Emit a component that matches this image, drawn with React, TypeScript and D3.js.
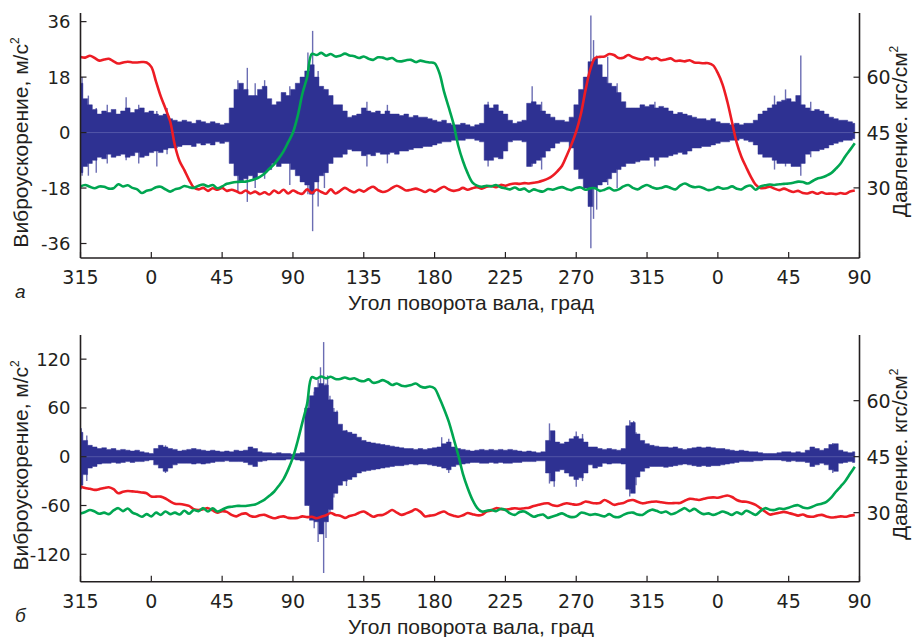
import React from 'react';
import * as d3 from 'd3';

// sampling grid of crank angle (continuous degrees; -45 = 315 of previous cycle)
const ANGLES = d3.range(-45, 448, 3);

const X_TICKS = [-45, 0, 45, 90, 135, 180, 225, 270, 315, 360, 405, 450];
const X_TICK_LABELS = ['315', '0', '45', '90', '135', '180', '225', '270', '315', '0', '45', '90'];
const TOP_VIB_TICKS = [36, 18, 0, -18, -36];
const BOT_VIB_TICKS = [120, 60, 0, -60, -120];
const PRESS_TICKS = [60, 45, 30];

// ---- panel a: pressure, kgf/cm2 ----
const TOP_RED = [
  65.5, 65.3, 65.8, 65.2, 64.5, 64.8, 65.0, 64.3, 63.7, 64.0,
  64.2, 64.0, 64.0, 64.1, 64.0, 62.8, 58.8, 54.8, 51.5, 48.0,
  41.5, 37.2, 34.8, 32.2, 30.1, 29.6, 30.0, 29.2, 29.9, 29.5,
  30.0, 29.2, 29.5, 29.1, 28.6, 29.3, 28.5, 29.0, 28.3, 28.8,
  28.2, 29.3, 28.6, 29.5, 28.5, 29.3, 28.7, 28.4, 29.6, 28.6,
  29.5, 28.9, 28.4, 29.6, 28.5, 29.2, 30.0, 29.3, 28.8, 29.5,
  29.0, 29.8, 30.3, 29.4, 28.9, 29.2, 30.0, 30.6, 30.0, 29.3,
  29.5, 29.8, 29.4, 28.9, 29.5, 29.0, 29.7, 30.3, 29.6, 29.2,
  29.4, 30.0, 29.5, 29.9, 30.2, 29.8, 30.3, 30.5, 30.2, 30.8,
  30.6, 31.0, 31.2, 31.1, 31.3, 31.2, 31.4, 31.6, 32.0, 32.5,
  33.3, 34.5, 36.0, 38.8, 41.8, 45.3, 50.1, 56.7, 62.2, 65.2,
  65.5, 65.6, 66.3, 66.0, 65.2, 65.3, 66.0, 65.4, 65.0, 64.8,
  65.4, 64.9, 65.2, 64.6, 64.8, 65.1, 64.4, 64.5, 64.3, 64.6,
  64.0, 63.9, 63.8, 63.8, 63.2, 61.1, 58.0, 53.4, 47.8, 42.2,
  38.4, 35.6, 33.0, 30.9, 30.0, 30.0, 30.3, 29.8, 29.4, 29.8,
  29.3, 28.9, 29.2, 28.6, 28.5, 28.9, 28.4, 28.8, 28.4, 28.5,
  28.3, 28.6, 28.4, 29.0, 29.3,
];
const TOP_GREEN = [
  30.4, 30.8, 30.3, 29.9, 30.4, 30.3, 29.8, 29.9, 31.0, 30.4,
  30.7, 30.0, 29.6, 28.6, 29.2, 29.5, 30.2, 30.3, 29.6, 29.0,
  29.6, 29.9, 30.5, 30.2, 30.0, 30.6, 30.9, 30.4, 30.8, 29.9,
  30.4, 31.1, 31.4, 31.6, 31.7, 31.7, 32.0, 32.4, 33.0, 33.9,
  35.2, 36.4, 38.0, 39.9, 42.4, 45.0, 49.5, 55.5, 60.0, 66.3,
  66.0, 66.6, 65.8, 66.3, 65.6, 65.8, 66.4, 65.9, 65.7, 65.2,
  65.6, 65.0, 64.7, 65.4, 65.3, 64.9, 65.2, 64.4, 64.3, 64.6,
  64.7, 64.1, 64.5, 64.2, 64.0, 63.8, 61.2, 56.1, 51.8, 47.4,
  41.5, 37.3, 34.0, 31.5, 30.6, 30.3, 30.6, 30.4, 30.8, 30.2,
  29.9, 29.6, 30.1, 29.5, 29.8, 29.0, 29.6, 29.2, 29.0, 29.7,
  29.5, 29.9, 30.2, 29.7, 29.4, 30.0, 30.1, 29.5, 29.9, 29.9,
  29.2, 29.5, 30.0, 29.3, 29.6, 30.4, 30.8, 30.0, 29.6, 30.3,
  30.8, 30.2, 29.8, 30.0, 30.4, 30.0, 29.6, 30.6, 31.2, 30.6,
  30.2, 30.3, 29.9, 29.4, 29.6, 30.2, 29.8, 29.9, 30.4, 29.8,
  29.6, 30.4, 30.6, 29.5, 30.4, 30.7, 30.9, 30.8, 31.0, 31.1,
  31.2, 31.4, 31.7, 31.6, 31.2, 31.8, 32.5, 32.8, 33.3, 34.0,
  35.2, 36.6, 38.6, 40.3, 42.1,
];
// ---- panel a: vibration envelope, m/s2 ----
const TOP_HI = [
  16, 11, 9, 7.5, 6, 7, 6.5, 7.5, 6, 7,
  8, 6.5, 7.5, 8, 6.5, 7, 6, 5.5, 6, 4.5,
  4, 3.5, 4, 3.5, 3, 4, 3.5, 3, 3.5, 3,
  2.5, 3, 8, 14, 16, 14, 12, 12, 14, 15,
  11, 9, 10, 13, 12, 14, 16, 18, 20, 22,
  18, 15, 14, 12, 9, 9, 7, 5, 5.5, 6,
  8, 7, 6.5, 7, 6, 7, 6, 6, 5.5, 6,
  5, 5.5, 5, 5, 4.5, 4, 3.5, 4, 3, 2.5,
  2.5, 3, 2.5, 2, 2.5, 3, 9, 8, 9, 7,
  6, 4, 3, 3.5, 4, 9.5, 10, 9, 7, 6,
  5, 4, 4, 3.5, 5, 9, 14, 18, 23, 24,
  22, 18, 16, 15, 13, 10, 8, 8, 8, 9,
  8.5, 9, 8, 8.5, 8, 7, 6, 6.5, 6, 5.5,
  5, 4.5, 4.5, 4, 4.5, 3.5, 3, 3, 2.5, 3,
  2.5, 3, 3, 4, 6, 7, 8, 9, 10, 10.5,
  11, 10, 12, 9, 8, 7, 7.5, 7, 6, 5,
  4.5, 4, 4, 3.5, 3,
];
const TOP_LO = [
  -13, -11, -10, -9, -8, -8.5, -7, -8, -7.5, -7,
  -8, -7.5, -6.5, -8, -7.5, -6.5, -6, -6.5, -5.5, -5,
  -5, -4.5, -4, -4, -4.5, -3.5, -4, -3.5, -4, -3,
  -3.5, -3, -10, -14, -16, -15, -14, -15, -13, -13,
  -12, -10, -11, -10, -10, -12, -14, -16, -17, -20,
  -16, -14, -13, -10, -8, -8, -7, -5.5, -6, -6,
  -7.5, -7, -7.5, -6.5, -7, -7, -6.5, -7, -6, -6,
  -5.5, -5, -5, -4.5, -4.5, -4, -3.5, -3, -3, -2.5,
  -2.5, -2.5, -2, -2, -2.5, -3, -9, -9, -8, -8.5,
  -6, -3, -2.5, -2.5, -3, -11, -10, -9, -8, -6,
  -5, -3.5, -3, -3, -5, -12, -15, -18, -24, -18,
  -17, -16, -15, -13, -12, -11, -10, -10, -9.5, -9,
  -9, -8, -9, -8, -8, -7.5, -7, -6.5, -7, -6,
  -5, -5, -4.5, -4.5, -4, -3.5, -3, -3, -2.5, -2.5,
  -2, -2.5, -3, -4, -7, -8, -8, -9, -10, -10,
  -10, -11, -11, -10, -7, -6, -6, -5.5, -5, -4,
  -3.5, -3, -2.5, -2.5, -2,
];
// isolated peaks [angle, max, min]
const TOP_SPIKES = [
  [-44, 18, -14], [-40, 12, -14], [-35, 8, -13], [-28, 9, -10], [-16, 11.5, -9], [-8, 9, -10],
  [3.5, 7, -11], [10, 8, -7], [55, 17, -19], [61, 21, -22.5], [66, 16, -18], [72, 17, -15],
  [88, 15, -17], [99.5, 26, -20], [102.5, 33, -32], [106, 20, -24], [110, 14, -18], [137, 10, -11],
  [150, 9, -10], [214, 10, -11], [242, 15, -11], [248, 10, -12], [279.3, 38, -37.5], [281, 30, -28],
  [283, 25, -25], [290, 24.6, -17], [296, 16, -18], [320, 10, -11], [396, 12, -12], [403, 14, -11],
  [412.7, 25, -14], [419, 10, -8],
];

// ---- panel b ----
const BOT_RED = [
  37.0, 36.6, 36.4, 36.1, 36.3, 36.6, 36.8, 36.3, 35.2, 35.6,
  35.8, 35.7, 35.6, 35.4, 35.2, 34.3, 34.3, 34.3, 33.8, 33.0,
  32.4, 32.3, 32.1, 31.8, 30.9, 30.7, 30.9, 31.2, 30.6, 30.0,
  30.4, 30.2, 29.4, 29.0, 29.6, 29.8, 29.1, 28.9, 29.3, 29.4,
  28.9, 28.5, 28.8, 29.0, 28.6, 28.5, 28.6, 29.0, 28.8, 28.9,
  28.5, 28.9, 29.3, 29.9, 29.4, 29.2, 28.6, 29.1, 29.4, 30.0,
  30.3, 29.6, 28.9, 29.3, 29.4, 30.0, 30.7, 30.0, 29.4, 29.8,
  30.3, 30.9, 30.2, 29.0, 29.2, 29.4, 29.9, 30.3, 29.6, 29.2,
  28.9, 29.3, 29.9, 29.6, 29.3, 29.4, 30.3, 30.6, 31.2, 31.0,
  30.8, 31.0, 31.2, 31.0, 31.2, 31.3, 31.8, 32.1, 32.4, 32.5,
  32.0, 31.8, 32.2, 32.5, 32.3, 32.1, 32.4, 33.0, 32.7, 32.5,
  32.6, 33.4, 32.8, 32.1, 32.4, 32.6, 33.2, 33.4, 32.9, 32.5,
  32.7, 32.9, 33.0, 32.8, 32.6, 32.5, 32.6, 32.6, 33.2, 33.7,
  33.6, 33.4, 33.7, 34.0, 34.1, 34.0, 34.3, 34.6, 34.2, 33.4,
  33.0, 32.9, 32.6, 32.1, 31.2, 30.3, 29.5, 29.7, 30.0, 30.2,
  29.9, 29.6, 29.2, 29.5, 29.0, 28.9, 29.2, 29.4, 29.0, 28.7,
  28.8, 29.0, 28.9, 29.2, 29.4,
];
const BOT_GREEN = [
  29.8, 30.2, 30.7, 30.3, 29.7, 30.0, 29.6, 30.6, 31.2, 30.4,
  31.1, 30.0, 29.5, 28.9, 29.6, 29.0, 30.0, 29.4, 30.3, 29.6,
  30.0, 29.5, 30.5, 29.7, 30.7, 30.4, 31.2, 30.3, 31.2, 30.3,
  30.8, 31.4, 31.6, 31.8, 31.8, 31.8, 32.0, 32.2, 32.8, 33.5,
  34.5, 35.6, 37.2, 39.0, 41.6, 44.8, 49.2, 54.2, 59.2, 66.3,
  65.9, 66.5, 66.0, 66.4, 65.8, 65.8, 66.2, 65.8, 66.0, 65.4,
  65.2, 65.7, 64.8, 65.0, 65.5, 65.0, 64.2, 64.6, 64.0, 63.9,
  64.2, 64.6, 63.8, 63.5, 63.8, 63.3, 60.8, 57.8, 54.4, 50.0,
  45.5, 40.4, 36.6, 33.5, 31.3, 30.3, 30.5, 30.7, 30.4, 31.0,
  30.7, 29.8, 29.4, 30.2, 30.3, 29.6, 28.9, 29.3, 29.5, 28.6,
  29.0, 29.4, 29.8, 29.2, 28.8, 29.0, 30.0, 29.8, 29.4, 29.6,
  29.3, 29.0, 29.6, 28.9, 28.8, 29.4, 29.9, 30.0, 29.5, 29.4,
  30.2, 30.8, 30.5, 30.0, 30.3, 29.6, 29.9, 30.6, 31.2, 30.4,
  31.0, 30.2, 29.6, 29.8, 29.4, 29.8, 30.3, 29.9, 29.4, 30.1,
  29.6, 30.5, 30.0, 29.4, 30.4, 31.2, 30.8, 30.7, 31.1, 31.0,
  31.3, 31.8, 32.0, 31.4, 31.2, 31.6, 32.1, 32.4, 32.9, 34.0,
  35.6, 37.0, 38.5, 40.4, 42.3,
];
const BOT_HI = [
  30, 20, 14, 12, 10, 11, 9, 10, 8, 9,
  8, 7, 8, 6, 5, 4, 10, 14, 12, 10,
  9, 7, 8, 9, 10, 9, 8, 7, 8, 7,
  6, 7, 6, 8, 7, 8, 12, 10, 6, 5,
  5, 4, 5, 4, 4, 3, 4, 5, 60, 75,
  85, 90, 88, 70, 55, 40, 32, 30, 28, 24,
  20, 18, 17, 16, 15, 14, 13, 12, 11, 10,
  10, 9, 10, 9, 10, 11, 12, 16, 18, 12,
  10, 9, 8, 7, 8, 9, 8, 9, 8, 9,
  8, 9, 8, 7, 6, 7, 6, 5, 6, 20,
  32, 18, 16, 18, 22, 25, 22, 18, 12, 12,
  10, 9, 10, 9, 8, 10, 38, 42, 28, 20,
  16, 14, 13, 12, 12, 11, 12, 10, 9, 10,
  11, 12, 11, 12, 11, 10, 10, 9, 8, 7,
  8, 7, 6, 6, 5, 4, 4, 4, 5, 6,
  6, 5, 6, 5, 8, 12, 10, 8, 10, 15,
  16, 8, 6, 5, 6,
];
const BOT_LO = [
  -35, -22, -14, -12, -9, -8, -8, -7, -8, -7,
  -6, -7, -6, -6, -5, -4, -10, -14, -18, -14,
  -10, -8, -8, -8, -9, -8, -9, -8, -7, -6,
  -6, -5, -6, -6, -6, -7, -10, -12, -6, -5,
  -4, -4, -4, -4, -3, -3, -4, -5, -60, -78,
  -80, -95, -80, -65, -45, -35, -30, -28, -25, -20,
  -18, -17, -16, -15, -14, -13, -12, -11, -11, -10,
  -9, -10, -9, -9, -10, -11, -12, -14, -16, -12,
  -10, -9, -8, -7, -7, -8, -8, -7, -8, -7,
  -8, -8, -7, -7, -6, -6, -6, -5, -5, -20,
  -30, -18, -16, -20, -24, -28, -26, -20, -10, -14,
  -12, -8, -9, -8, -8, -9, -40, -45, -25, -18,
  -14, -12, -12, -12, -13, -12, -11, -10, -9, -10,
  -11, -12, -11, -12, -11, -11, -10, -9, -8, -7,
  -6, -6, -6, -5, -5, -4, -4, -4, -4, -5,
  -6, -5, -6, -6, -7, -12, -10, -8, -10, -16,
  -18, -8, -7, -6, -7,
];
const BOT_SPIKES = [
  [-44.5, 35, -40], [-41, 26, -30], [9, 14, -20], [100, 70, -60], [101.5, 65, -75],
  [103.5, 80, -88], [104.5, 85, -70], [106, 95, -105], [107.5, 110, -95], [109.5, 141, -143],
  [111, 90, -100], [112, 100, -80], [113.5, 75, -70], [116, 60, -50], [118, 57, -45],
  [124, 33, -36], [184.5, 24, -12], [189, 22, -20], [253, 41, -33], [256, 30, -37],
  [270, 31, -37], [274, 28, -30], [304, 45, -49], [306.5, 44, -40], [308, 30, -35], [433, 17, -20],
];

const INK = '#231f20';
const NAVY = '#2e3192';
const NAVY_LIGHT = '#6b6db3';
const RED = '#ed1c24';
const GREEN = '#00a651';
const NUM_FONT = '"DejaVu Sans", sans-serif';
const TXT_FONT = '"Liberation Sans", Arial, sans-serif';

const xScale = d3.scaleLinear().domain([-45, 450]).range([80.5, 859.5]);

type PanelProps = {
  top: number; bottom: number;
  vibDomain: [number, number]; pressDomain: [number, number];
  vibTicks: number[]; hi: number[]; lo: number[]; spikes: number[][];
  red: number[]; green: number[]; letter: string;
};

function Panel(p: PanelProps) {
  const left = 80.5, right = 859.5;
  const yV = d3.scaleLinear().domain(p.vibDomain).range([p.bottom, p.top]);
  const yP = d3.scaleLinear().domain(p.pressDomain).range([p.bottom, p.top]);
  const env = ANGLES.map((a, i) => ({ a, hi: p.hi[i], lo: p.lo[i] }));
  const area = d3.area<any>().x(d => xScale(d.a)).y0(d => yV(d.lo)).y1(d => yV(d.hi)).curve(d3.curveStep);
  const line = d3.line<any>().x(d => xScale(d.a)).y(d => yP(d.v)).curve(d3.curveCatmullRom.alpha(0.5));
  const redPts = ANGLES.map((a, i) => ({ a, v: p.red[i] }));
  const greenPts = ANGLES.map((a, i) => ({ a, v: p.green[i] }));
  const mid = (p.top + p.bottom) / 2;
  return (
    <g>
      {/* vibration signal */}
      {p.spikes.map((s, i) => (
        <line key={'s' + i} x1={xScale(s[0])} x2={xScale(s[0])} y1={yV(s[1])} y2={yV(s[2])}
          stroke={NAVY_LIGHT} strokeWidth={1.4} />
      ))}
      <path d={area(env) || ''} fill={NAVY} stroke={NAVY} strokeWidth={0.5} />
      <line x1={xScale(-45)} x2={xScale(447)} y1={yV(0)} y2={yV(0)} stroke="#5d60ad" strokeWidth={0.8} />
      {/* pressure */}
      <path d={line(redPts) || ''} fill="none" stroke={RED} strokeWidth={2.6} />
      <path d={line(greenPts) || ''} fill="none" stroke={GREEN} strokeWidth={2.6} />
      {/* axes */}
      <line x1={left} x2={left} y1={p.top} y2={p.bottom} stroke={INK} strokeWidth={1.6} />
      <line x1={right} x2={right} y1={p.top} y2={p.bottom} stroke={INK} strokeWidth={1.6} />
      <line x1={left} x2={right} y1={p.bottom} y2={p.bottom} stroke={INK} strokeWidth={1.6} />
      {X_TICKS.map((t, i) => (
        <g key={'x' + i}>
          <line x1={xScale(t)} x2={xScale(t)} y1={p.bottom} y2={p.bottom - 6} stroke={INK} strokeWidth={1.2} />
          <text x={xScale(t)} y={p.bottom + 26} textAnchor="middle" fontFamily={NUM_FONT} fontSize={19} fill={INK}>
            {X_TICK_LABELS[i]}
          </text>
        </g>
      ))}
      {p.vibTicks.map((t, i) => (
        <g key={'v' + i}>
          <line x1={left} x2={left + 6} y1={yV(t)} y2={yV(t)} stroke={INK} strokeWidth={1.2} />
          <text x={left - 10} y={yV(t) + 6.5} textAnchor="end" fontFamily={NUM_FONT} fontSize={18} fill={INK}>
            {t}
          </text>
        </g>
      ))}
      {PRESS_TICKS.map((t, i) => (
        <g key={'p' + i}>
          <line x1={right} x2={right - 6} y1={yP(t)} y2={yP(t)} stroke={INK} strokeWidth={1.2} />
          <text x={right + 7} y={yP(t) + 7} textAnchor="start" fontFamily={NUM_FONT} fontSize={19} fill={INK}>
            {t}
          </text>
        </g>
      ))}
      <text transform={`translate(28,${mid + 7}) rotate(-90)`} textAnchor="middle" fontFamily={TXT_FONT} fontSize={21} fill={INK}>
        Виброускорение, м/с<tspan dy={-9} fontSize={12}>2</tspan>
      </text>
      <text transform={`translate(907,${mid - 4}) rotate(-90)`} textAnchor="middle" fontFamily={TXT_FONT} fontSize={21} fill={INK}>
        Давление. кгс/см<tspan dy={-9} fontSize={12}>2</tspan>
      </text>
      <text x={471} y={p.bottom + 52} textAnchor="middle" fontFamily={TXT_FONT} fontSize={21} fill={INK}>
        Угол поворота вала, град
      </text>
      <text x={15} y={p.bottom + 40} fontFamily={TXT_FONT} fontStyle="italic" fontSize={19} fill={INK}>
        {p.letter}
      </text>
    </g>
  );
}

export default function App() {
  return (
    <svg width={914} height={637} viewBox="0 0 914 637"
      style={{ position: 'absolute', left: 0, top: 0, background: '#fff' }}>
      <rect x={0} y={0} width={914} height={637} fill="#fff" />
      <Panel top={13} bottom={258} vibDomain={[-40.7, 38.8]} pressDomain={[11, 77.4]}
        vibTicks={TOP_VIB_TICKS} hi={TOP_HI} lo={TOP_LO} spikes={TOP_SPIKES}
        red={TOP_RED} green={TOP_GREEN} letter="а" />
      <Panel top={335} bottom={581.7} vibDomain={[-153.7, 149.7]} pressDomain={[11.5, 77.6]}
        vibTicks={BOT_VIB_TICKS} hi={BOT_HI} lo={BOT_LO} spikes={BOT_SPIKES}
        red={BOT_RED} green={BOT_GREEN} letter="б" />
    </svg>
  );
}
